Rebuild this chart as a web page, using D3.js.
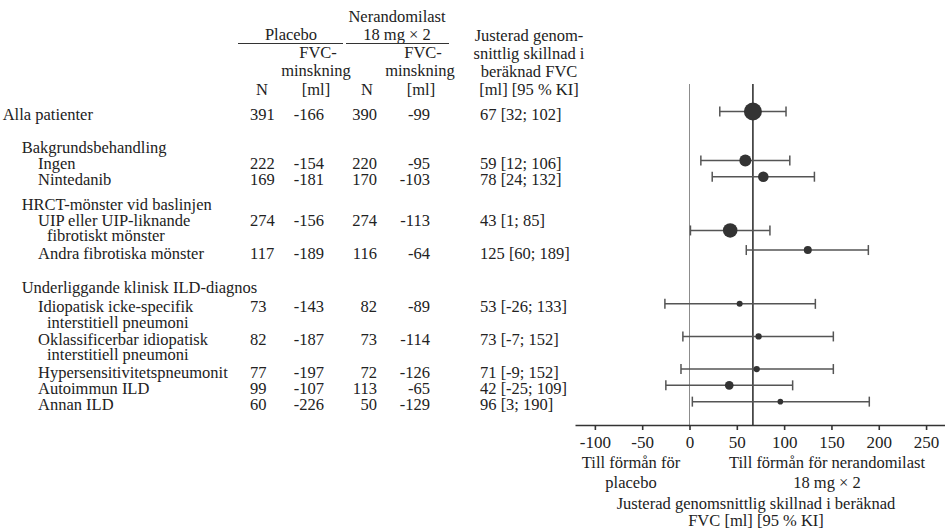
<!DOCTYPE html>
<html>
<head>
<meta charset="utf-8">
<script src="https://cdn.jsdelivr.net/npm/d3@7"></script>
<style>
body { margin: 0; background: #fff; }
svg text { font-family: "Liberation Serif", "Times New Roman", serif; fill: #222; }
</style>
</head>
<body>
<div id="forest"></div>
<script>
// table rows, top to bottom (null = group heading without data)
var rowLabels = [
	["Alla patienter"],
	["Bakgrundsbehandling"],
	["Ingen"],
	["Nintedanib"],
	["HRCT-mönster vid baslinjen"],
	["UIP eller UIP-liknande", "fibrotiskt mönster"],
	["Andra fibrotiska mönster"],
	["Underliggande klinisk ILD-diagnos"],
	["Idiopatisk icke-specifik", "interstitiell pneumoni"],
	["Oklassificerbar idiopatisk", "interstitiell pneumoni"],
	["Hypersensitivitetspneumonit"],
	["Autoimmun ILD"],
	["Annan ILD"]
];
var rowLevel    = [0, 1, 2, 2, 1, 2, 2, 1, 2, 2, 2, 2, 2];
var placeboN    = [391, null, 222, 169, null, 274, 117, null, 73, 82, 77, 99, 60];
var placeboFvc  = [-166, null, -154, -181, null, -156, -189, null, -143, -187, -197, -107, -226];
var neraN       = [390, null, 220, 170, null, 274, 116, null, 82, 73, 72, 113, 50];
var neraFvc     = [-99, null, -95, -103, null, -113, -64, null, -89, -114, -126, -65, -129];
var diffMean    = [67, null, 59, 78, null, 43, 125, null, 53, 73, 71, 42, 96];
var ciLow       = [32, null, 12, 24, null, 1, 60, null, -26, -7, -9, -25, 3];
var ciHigh      = [102, null, 106, 132, null, 85, 189, null, 133, 152, 152, 109, 190];
var weight      = [81, null, 36, 28, null, 53, 16, null, 9, 10, 10, 19, 8];
var xTicks      = [-100, -50, 0, 50, 100, 150, 200, 250];
var overallEffect = 67;

var width = 945, height = 529;
var fs = 16.5;

var svg = d3.select("#forest")
	.append("svg")
		.attr("width", width)
		.attr("height", height);

svg.append("rect").attr("width", width).attr("height", height).attr("fill", "#fff");

// vertical layout: line units -> pixels
var lineH = 16.3, firstBaseline = 120;
var gapBefore = [0, 1, 0, 0, 0.5, 0, 0, 1.1, 0.2, 0, 0, 0, 0];
var startLine = [];
var acc = 0;
rowLabels.forEach(function(lines, i) {
	acc += gapBefore[i];
	startLine.push(acc);
	acc += lines.length;
});
var yLine = d3.scaleLinear().domain([0, 1]).range([firstBaseline, firstBaseline + lineH]);

// ---- header ----
function txt(x, y, s, anchor, size) {
	svg.append("text")
		.attr("x", x).attr("y", y)
		.attr("text-anchor", anchor || "middle")
		.style("font-size", (size || fs) + "px")
		.text(s);
}
txt(397, 22, "Nerandomilast");
txt(291, 39.5, "Placebo");
txt(397, 39.5, "18 mg \u00d7 2");
svg.append("line").attr("x1", 238).attr("x2", 343).attr("y1", 43.5).attr("y2", 43.5)
	.attr("stroke", "#333").attr("stroke-width", 1);
svg.append("line").attr("x1", 346).attr("x2", 449).attr("y1", 43.5).attr("y2", 43.5)
	.attr("stroke", "#333").attr("stroke-width", 1);
txt(318, 58, "FVC-");
txt(316, 76, "minskning");
txt(262, 94.5, "N");
txt(316, 94.5, "[ml]");
txt(423, 58, "FVC-");
txt(420, 76, "minskning");
txt(367, 94.5, "N");
txt(421, 94.5, "[ml]");
["Justerad genom-", "snittlig skillnad i", "beräknad FVC", "[ml] [95 % KI]"].forEach(function(s, i) {
	txt(529, 41 + i * 18, s);
});

// ---- table body ----
var levelX = [2.7, 21.7, 38];
rowLabels.forEach(function(lines, i) {
	var base = yLine(startLine[i]);
	lines.forEach(function(s, j) {
		txt(levelX[rowLevel[i]] + (j > 0 ? 9 : 0), base + j * (lineH - 1), s, "start");
	});
	if (placeboN[i] === null) return;
	txt(250, base, placeboN[i], "start");
	txt(324, base, placeboFvc[i], "end");
	txt(377, base, neraN[i], "end");
	txt(430, base, neraFvc[i], "end");
	txt(480, base, diffMean[i] + " [" + ciLow[i] + "; " + ciHigh[i] + "]", "start");
});

// ---- forest plot ----
var x = d3.scaleLinear().domain([-121, 270]).range([575, 945]);
var r = d3.scaleSqrt().domain([0, 81]).range([0, 9]);
var axisY = 425, plotTop = 84;

// marker sits between the two label lines for the UIP row
var betweenLines = new Set(["UIP eller UIP-liknande"]);
function markerY(i) {
	var y = yLine(startLine[i]) - 8.5;
	if (betweenLines.has(rowLabels[i][0])) y += 13;
	return y;
}

svg.append("line")
	.attr("x1", x(0)).attr("x2", x(0))
	.attr("y1", plotTop).attr("y2", axisY)
	.attr("stroke", "#8c8c8c").attr("stroke-width", 1);
svg.append("line")
	.attr("x1", x(overallEffect)).attr("x2", x(overallEffect))
	.attr("y1", plotTop).attr("y2", axisY)
	.attr("stroke", "#333").attr("stroke-width", 1.6);

var rows = d3.range(rowLabels.length).filter(function(i) { return diffMean[i] !== null; });
var g = svg.append("g");
rows.forEach(function(i) {
	var y = markerY(i);
	g.append("line")
		.attr("x1", x(ciLow[i])).attr("x2", x(ciHigh[i]))
		.attr("y1", y).attr("y2", y)
		.attr("stroke", "#555").attr("stroke-width", 1.5);
	[ciLow[i], ciHigh[i]].forEach(function(v) {
		g.append("line")
			.attr("x1", x(v)).attr("x2", x(v))
			.attr("y1", y - 5).attr("y2", y + 5)
			.attr("stroke", "#555").attr("stroke-width", 1.5);
	});
	g.append("circle")
		.attr("cx", x(diffMean[i])).attr("cy", y)
		.attr("r", r(weight[i]))
		.attr("fill", "#333");
});

var axis = svg.append("g")
	.attr("transform", "translate(0," + axisY + ")")
	.call(d3.axisBottom(x).tickValues(xTicks).tickSize(5).tickSizeOuter(0).tickPadding(6)
		.tickFormat(function(d) { return String(d); }));
axis.select(".domain").attr("stroke", "#333").attr("stroke-width", 1.6);
axis.selectAll(".tick line").attr("stroke", "#333").attr("stroke-width", 1.6);
axis.selectAll(".tick text")
	.style("font-family", "'Liberation Serif', 'Times New Roman', serif")
	.style("font-size", "17px")
	.attr("fill", "#222");

txt(631, 467.5, "Till förmån för");
txt(631, 488, "placebo");
txt(827, 467.5, "Till förmån för nerandomilast");
txt(827, 488, "18 mg \u00d7 2");
txt(756, 508.5, "Justerad genomsnittlig skillnad i beräknad");
txt(756, 526, "FVC [ml] [95 % KI]");
</script>
</body>
</html>
